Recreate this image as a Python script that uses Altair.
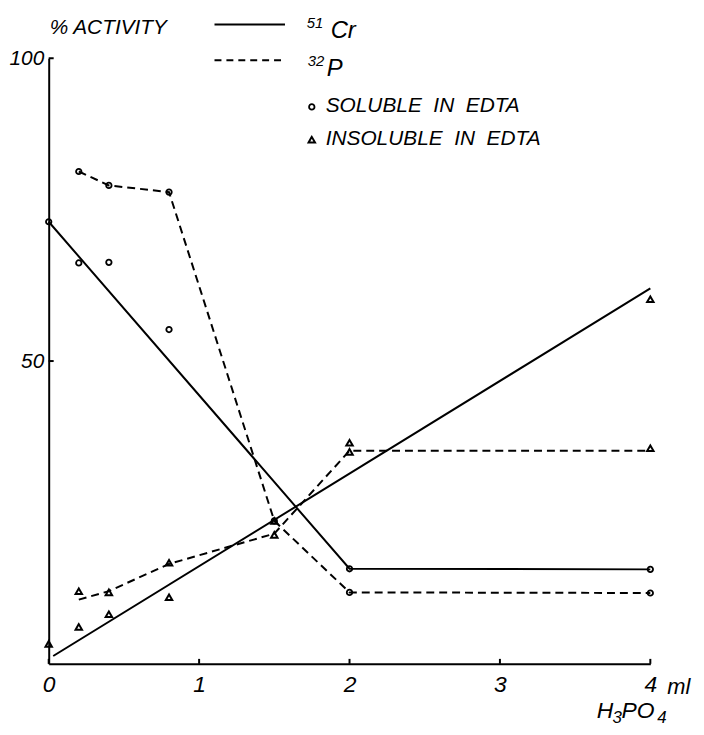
import altair as alt
import pandas as pd

# ---- data (x in ml H3PO4, y in % activity) ----
cr_sol_x = [0, 0.2, 0.4, 0.8, 2, 4]
cr_sol_y = [73.0, 66.2, 66.3, 55.2, 15.7, 15.6]
cr_sol_line_x = [0, 2, 4]
cr_sol_line_y = [73.0, 15.7, 15.6]

cr_ins_x = [0, 0.2, 0.4, 0.8, 1.5, 2, 4]
cr_ins_y = [3.3, 6.1, 8.2, 11.0, 23.6, 36.5, 60.2]
cr_ins_line_x = [0.03, 4]
cr_ins_line_y = [1.3, 62.0]

p_sol_x = [0.2, 0.4, 0.8, 1.5, 2, 4]
p_sol_y = [81.3, 79.0, 77.9, 23.6, 11.8, 11.7]
p_sol_line_y = [81.3, 79.0, 77.9, 23.6, 11.8, 11.7]

p_ins_x = [0.2, 0.4, 0.8, 1.5, 2, 4]
p_ins_y = [12.0, 11.8, 16.7, 21.3, 35.0, 35.6]
p_ins_line_y = [10.6, 12.0, 16.5, 21.5, 35.2, 35.2]

x_ticks = [0, 1, 2, 3, 4]
y_ticks = [50, 100]

FONT = "Liberation Sans"
W, H = 606, 610

lines_solid = pd.DataFrame({
    "x": cr_sol_line_x + cr_ins_line_x,
    "y": cr_sol_line_y + cr_ins_line_y,
    "s": ["sol"] * len(cr_sol_line_x) + ["ins"] * len(cr_ins_line_x),
})
lines_dashed = pd.DataFrame({
    "x": p_sol_x + p_ins_x,
    "y": p_sol_line_y + p_ins_line_y,
    "s": ["sol"] * len(p_sol_x) + ["ins"] * len(p_ins_x),
})
circles = pd.DataFrame({"x": cr_sol_x + p_sol_x, "y": cr_sol_y + p_sol_y})
triangles = pd.DataFrame({"x": cr_ins_x + p_ins_x, "y": cr_ins_y + p_ins_y})

xs = alt.Scale(domain=[0, 4], nice=False, zero=False)
ys = alt.Scale(domain=[0, 100], nice=False)

xaxis = alt.Axis(values=x_ticks, format="d", title=None, grid=False, tickSize=0, labelFont=FONT,
                 labelFontStyle="italic", labelFontSize=23, labelColor="black",
                 labelPadding=10, labelFlush=False, labelOverlap=False,
                 domainColor="black", domainWidth=2)
yaxis = alt.Axis(values=y_ticks, format="d", title=None, grid=False, tickSize=0, labelFont=FONT,
                 labelFontStyle="italic", labelFontSize=21, labelColor="black",
                 labelPadding=5, labelFlush=False, labelOverlap=False,
                 domainColor="black", domainWidth=2)

base_x = alt.X("x:Q", scale=xs, axis=xaxis)
base_y = alt.Y("y:Q", scale=ys, axis=yaxis)

solid = alt.Chart(lines_solid).mark_line(color="black", strokeWidth=2).encode(
    x=base_x, y=base_y, detail="s:N")
dashed = alt.Chart(lines_dashed).mark_line(color="black", strokeWidth=2, strokeDash=[8, 5]).encode(
    x=alt.X("x:Q", scale=xs), y=alt.Y("y:Q", scale=ys), detail="s:N")
circ = alt.Chart(circles).mark_point(shape="circle", filled=False, color="black",
                                     strokeWidth=1.8, size=30, opacity=1).encode(
    x=alt.X("x:Q", scale=xs), y=alt.Y("y:Q", scale=ys))
tri = alt.Chart(triangles).mark_point(shape="triangle-up", filled=False, color="black",
                                      strokeWidth=2, size=42, opacity=1).encode(
    x=alt.X("x:Q", scale=xs), y=alt.Y("y:Q", scale=ys))

xt = alt.Chart(pd.DataFrame({"t": x_ticks})).mark_rule(color="black", strokeWidth=2).encode(
    x=alt.X("t:Q", scale=xs), y=alt.value(H), y2=alt.value(H - 5))
yt = alt.Chart(pd.DataFrame({"t": y_ticks})).mark_rule(color="black", strokeWidth=2).encode(
    y=alt.Y("t:Q", scale=ys), x=alt.value(0), x2=alt.value(5))

one = pd.DataFrame({"a": [0]})


def txt(s, x, y, size=21, baseline="middle"):
    return alt.Chart(one).mark_text(font=FONT, fontStyle="italic", fontSize=size, align="left",
                                    baseline=baseline, color="black").encode(
        x=alt.value(x), y=alt.value(y), text=alt.value(s))


leg_solid = alt.Chart(one).mark_rule(color="black", strokeWidth=2).encode(
    x=alt.value(167), x2=alt.value(238), y=alt.value(-34))
leg_dash = alt.Chart(one).mark_rule(color="black", strokeWidth=2, strokeDash=[7, 5]).encode(
    x=alt.value(167), x2=alt.value(238), y=alt.value(2))
leg_circ = alt.Chart(one).mark_point(shape="circle", filled=False, color="black",
                                     strokeWidth=1.8, size=30, opacity=1).encode(
    x=alt.value(265), y=alt.value(49))
leg_tri = alt.Chart(one).mark_point(shape="triangle-up", filled=False, color="black",
                                    strokeWidth=2, size=42, opacity=1).encode(
    x=alt.value(265), y=alt.value(82))

texts = [
    txt("% ACTIVITY", 1, -30, 21),
    txt("51", 260, -35, 15),
    txt("Cr", 284, -27, 24),
    txt("32", 261, 3, 15),
    txt("P", 280, 11, 24),
    txt("SOLUBLE\u00a0 IN\u00a0 EDTA", 279, 48, 21),
    txt("INSOLUBLE\u00a0 IN\u00a0 EDTA", 279, 81, 21),
    txt("ml", 623, 633, 22),
    txt("H", 552, 658, 23),
    txt("3", 568, 665, 17),
    txt("PO", 577, 658, 23),
    txt("4", 613, 665, 17),
]

chart = alt.layer(solid, dashed, circ, tri, xt, yt, leg_solid, leg_dash, leg_circ, leg_tri,
                  *texts).properties(
    width=W, height=H, autosize="none",
    padding={"left": 41, "top": 48, "right": 46, "bottom": 61},
).configure(background="white").configure_view(strokeWidth=0, stroke="transparent")

chart.save("out.html", embed_options={"renderer": "svg", "actions": False})
